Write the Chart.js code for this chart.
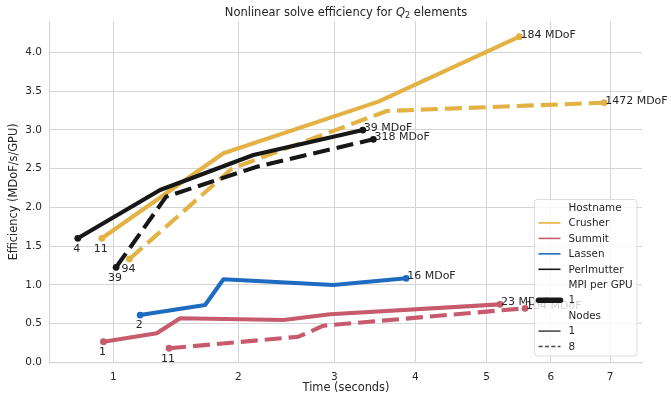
<!DOCTYPE html>
<html>
<head>
<meta charset="utf-8">
<script src="https://cdn.jsdelivr.net/npm/chart.js@4.4.1/dist/chart.umd.min.js"></script>
<style>
  html, body { margin: 0; padding: 0; background: #fff; }
  #wrap { width: 671px; height: 397px; position: relative; }
</style>
</head>
<body>
<div id="wrap"><canvas id="c"></canvas></div>
<script>
// Nonlinear solve efficiency: run time (s) vs. efficiency (MDoF/s/GPU)
const crusher1Time = [0.925, 1.862, 3.527, 5.50];
const crusher1Eff  = [1.600, 2.697, 3.363, 4.201];
const crusher8Time = [1.109, 1.940, 3.633, 6.896];
const crusher8Eff  = [1.333, 2.500, 3.243, 3.350];
const summit1Time  = [0.935, 1.308, 1.491, 2.444, 2.952, 5.204];
const summit1Eff   = [0.266, 0.374, 0.568, 0.546, 0.619, 0.748];
const summit8Time  = [1.403, 2.602, 2.876, 5.588];
const summit8Eff   = [0.181, 0.330, 0.472, 0.697];
const lassen1Time  = [1.185, 1.700, 1.862, 2.989, 3.881];
const lassen1Eff   = [0.610, 0.739, 1.071, 0.997, 1.084];
const perlmutter1Time = [0.778, 1.333, 2.143, 3.336];
const perlmutter1Eff  = [1.600, 2.223, 2.675, 2.997];
const perlmutter8Time = [1.018, 1.380, 2.177, 3.465];
const perlmutter8Eff  = [1.226, 2.137, 2.524, 2.877];

// GPU count at the first point, problem size at the last point
const firstLabels = ['11', '94', '1', '11', '2', '4', '39'];
const lastLabels  = ['184 MDoF', '1472 MDoF', '23 MDoF', '104 MDoF', '16 MDoF', '39 MDoF', '318 MDoF'];

const hostnames = ['Crusher', 'Summit', 'Lassen', 'Perlmutter'];
const mpiPerGpu = ['1'];
const nodeCounts = ['1', '8'];
const xTickValues = [1, 2, 3, 4, 5, 6, 7];
const yTickValues = [0, 0.5, 1, 1.5, 2, 2.5, 3, 3.5, 4];

const FONT = "'DejaVu Sans', 'Liberation Sans', sans-serif";
const TEXT = '#262626';
const GRID = '#d5d5d5';
const hostColors = { Crusher: '#E4B244', Summit: '#C75B6D', Lassen: '#1F6BC2', Perlmutter: '#171717' };
const DASH = [17, 7];

// square-root axis, as used for the time axis
class SqrtScale extends Chart.LinearScale {
  static id = 'sqrt';
  static defaults = {};
  buildTicks() {
    return xTickValues.filter(v => v >= this.min && v <= this.max).map(v => ({ value: v }));
  }
  getPixelForValue(value) {
    if (value === null || value === undefined) return NaN;
    const a = Math.sqrt(this.min), b = Math.sqrt(this.max);
    return this.getPixelForDecimal((Math.sqrt(value) - a) / (b - a));
  }
  getValueForPixel(pixel) {
    const a = Math.sqrt(this.min), b = Math.sqrt(this.max);
    const s = a + this.getDecimalForPixel(pixel) * (b - a);
    return s * s;
  }
}
Chart.register(SqrtScale);

const series = [
  { host: 'Crusher',    nodes: '8', t: crusher8Time,    e: crusher8Eff },
  { host: 'Crusher',    nodes: '1', t: crusher1Time,    e: crusher1Eff },
  { host: 'Summit',     nodes: '8', t: summit8Time,     e: summit8Eff },
  { host: 'Summit',     nodes: '1', t: summit1Time,     e: summit1Eff },
  { host: 'Lassen',     nodes: '1', t: lassen1Time,     e: lassen1Eff },
  { host: 'Perlmutter', nodes: '8', t: perlmutter8Time, e: perlmutter8Eff },
  { host: 'Perlmutter', nodes: '1', t: perlmutter1Time, e: perlmutter1Eff }
];
const labelIndex = { 'Crusher1': 0, 'Crusher8': 1, 'Summit1': 2, 'Summit8': 3, 'Lassen1': 4, 'Perlmutter1': 5, 'Perlmutter8': 6 };

const datasets = series.map((s, k) => {
  const li = labelIndex[s.host + s.nodes];
  return {
    label: s.host + ' / ' + s.nodes,
    data: s.t.map((t, i) => ({ x: t, y: s.e[i] })),
    borderColor: hostColors[s.host],
    backgroundColor: hostColors[s.host],
    borderWidth: 4.1,
    borderDash: s.nodes === '8' ? DASH : [],
    borderCapStyle: 'butt',
    borderJoinStyle: 'round',
    tension: 0,
    pointRadius: ctx => (ctx.dataIndex === 0 || ctx.dataIndex === s.t.length - 1) ? 3.4 : 0,
    pointBorderWidth: 0,
    pointHoverRadius: 0,
    order: series.length - k,
    firstLabel: firstLabels[li],
    lastLabel: lastLabels[li]
  };
});

// first/last point annotations
const pointLabels = {
  id: 'pointLabels',
  afterDatasetsDraw(chart) {
    const ctx = chart.ctx;
    ctx.save();
    ctx.font = '11px ' + FONT;
    ctx.fillStyle = TEXT;
    chart.data.datasets.forEach((ds, i) => {
      const meta = chart.getDatasetMeta(i);
      const first = meta.data[0], last = meta.data[meta.data.length - 1];
      ctx.textAlign = 'center';
      ctx.textBaseline = 'top';
      ctx.fillText(ds.firstLabel, first.x - 1, first.y + 5);
      ctx.textAlign = 'left';
      ctx.textBaseline = 'alphabetic';
      ctx.fillText(ds.lastLabel, last.x + 1, last.y + 1);
    });
    ctx.restore();
  }
};

// title with italic Q and subscript 2
const titlePlugin = {
  id: 'mathTitle',
  afterDraw(chart) {
    const ctx = chart.ctx;
    const area = chart.chartArea;
    const size = 11.5;
    const parts = [
      { text: 'Nonlinear solve efficiency for ', font: size + 'px ' + FONT, dy: 0 },
      { text: 'Q', font: 'oblique ' + size + 'px ' + FONT, dy: 0 },
      { text: '2', font: (size * 0.7) + 'px ' + FONT, dy: 2.2 },
      { text: ' elements', font: size + 'px ' + FONT, dy: 0 }
    ];
    ctx.save();
    ctx.fillStyle = TEXT;
    ctx.textBaseline = 'alphabetic';
    ctx.textAlign = 'left';
    let total = 0;
    parts.forEach(p => { ctx.font = p.font; p.w = ctx.measureText(p.text).width; total += p.w; });
    let x = (area.left + area.right) / 2 - total / 2;
    const base = 15.5;
    parts.forEach(p => { ctx.font = p.font; ctx.fillText(p.text, x, base + p.dy); x += p.w; });
    ctx.restore();
  }
};

// sectioned legend: hue, size and style entries
const sectionLegend = {
  id: 'sectionLegend',
  afterDraw(chart) {
    const ctx = chart.ctx;
    const x0 = 534.5, y0 = 199.5, w = 102.5, h = 156.5, r = 3;
    ctx.save();
    ctx.beginPath();
    ctx.moveTo(x0 + r, y0);
    ctx.arcTo(x0 + w, y0, x0 + w, y0 + h, r);
    ctx.arcTo(x0 + w, y0 + h, x0, y0 + h, r);
    ctx.arcTo(x0, y0 + h, x0, y0, r);
    ctx.arcTo(x0, y0, x0 + w, y0, r);
    ctx.closePath();
    ctx.fillStyle = 'rgba(255,255,255,0.8)';
    ctx.fill();
    ctx.strokeStyle = '#dddddd';
    ctx.lineWidth = 1;
    ctx.stroke();

    const rows = [];
    rows.push({ text: 'Hostname' });
    hostnames.forEach(hn => rows.push({ text: hn, color: hostColors[hn], lw: 1.6, dash: [] }));
    rows.push({ text: 'MPI per GPU' });
    mpiPerGpu.forEach(m => rows.push({ text: m, color: '#171717', lw: 5.5, dash: [], cap: 'round' }));
    rows.push({ text: 'Nodes' });
    nodeCounts.forEach((n, i) => rows.push({ text: n, color: '#4a4a4a', lw: 1.6, dash: i === 0 ? [] : [4.2, 2.2] }));

    ctx.font = '10.4px ' + FONT;
    ctx.fillStyle = TEXT;
    ctx.textAlign = 'left';
    ctx.textBaseline = 'middle';
    const tx = 568.5, lx0 = 538.5, lx1 = 560.5;
    rows.forEach((row, i) => {
      const y = 207.5 + i * 15.45;
      if (row.color) {
        ctx.beginPath();
        ctx.setLineDash(row.dash);
        ctx.lineCap = row.cap || 'butt';
        ctx.strokeStyle = row.color;
        ctx.lineWidth = row.lw;
        ctx.moveTo(lx0, y);
        ctx.lineTo(lx1, y);
        ctx.stroke();
        ctx.setLineDash([]);
      }
      ctx.fillText(row.text, tx, y + 0.5);
    });
    ctx.restore();
  }
};

new Chart(document.getElementById('c'), {
  type: 'line',
  data: { datasets },
  options: {
    responsive: true,
    maintainAspectRatio: false,
    animation: false,
    devicePixelRatio: 1,
    layout: { padding: { top: 21.3, right: 29, left: 0, bottom: 0 } },
    plugins: { legend: { display: false }, tooltip: { enabled: false }, title: { display: false } },
    elements: { line: { fill: false } },
    scales: {
      x: {
        type: 'sqrt',
        min: 0.624,
        max: 7.57,
        grid: { color: GRID, lineWidth: 1, drawTicks: false },
        border: { display: true, color: GRID, width: 1.2 },
        ticks: { color: TEXT, font: { family: FONT, size: 10.5 }, padding: 9, maxRotation: 0, autoSkip: false,
                 callback: v => String(v) },
        title: { display: true, text: 'Time (seconds)', color: TEXT, font: { family: FONT, size: 11.4 }, padding: { top: 0, bottom: 2.4 } },
        afterFit: s => { s.height = 34.7; }
      },
      y: {
        type: 'linear',
        min: 0,
        max: 4.4,
        afterBuildTicks: s => { s.ticks = yTickValues.map(v => ({ value: v })); },
        grid: { color: GRID, lineWidth: 1, drawTicks: false },
        border: { display: true, color: GRID, width: 1.2 },
        ticks: { color: TEXT, font: { family: FONT, size: 10.5 }, padding: 8, callback: v => v.toFixed(1) },
        title: { display: true, text: 'Efficiency (MDoF/s/GPU)', color: TEXT, font: { family: FONT, size: 11.4 }, padding: { top: 7.4, bottom: 0 } },
        afterFit: s => { s.width = 50; }
      }
    }
  },
  plugins: [pointLabels, titlePlugin, sectionLegend]
});
</script>
</body>
</html>
